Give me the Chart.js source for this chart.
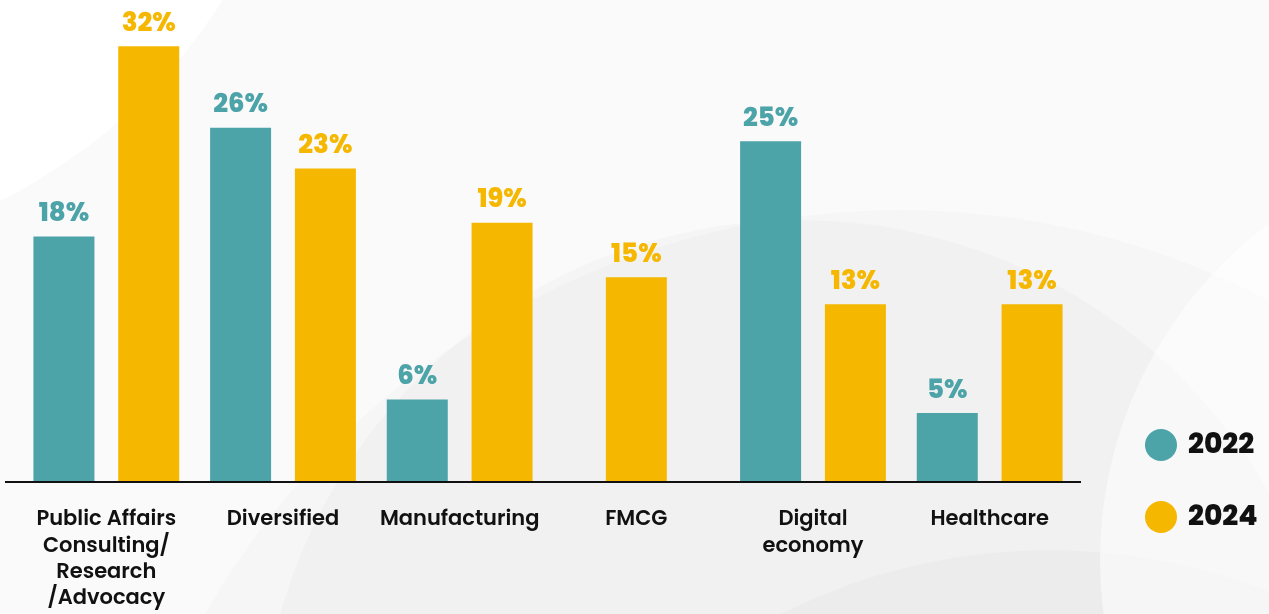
<!DOCTYPE html>
<html>
<head>
<meta charset="utf-8">
<script src="https://cdn.jsdelivr.net/npm/chart.js@4.4.1/dist/chart.umd.min.js"></script>
<style>
  html, body { margin: 0; padding: 0; background: #f7f7f7; }
  #wrap { position: relative; width: 1269px; height: 614px; }
</style>
</head>
<body>
<div id="wrap"><canvas id="sectors"></canvas></div>
<script>
const sectors = [
    ["Public Affairs", "Consulting/", "Research", "/Advocacy"],
    "Diversified",
    "Manufacturing",
    "FMCG",
    ["Digital", "economy"],
    "Healthcare"
];
const share2022 = [18, 26, 6, null, 25, 5];
const share2024 = [32, 23, 19, 15, 13, 13];

const TEAL = "#4ca3a8";
const GOLD = "#f5b700";
const FONT = "Poppins, 'Open Sans', sans-serif";

// soft grey circles behind the chart
const backdrop = {
    id: "backdrop",
    beforeDraw(chart) {
        const ctx = chart.ctx;
        ctx.save();
        ctx.fillStyle = "#fafafa";
        ctx.fillRect(0, 0, chart.width, chart.height);
        const blobs = [
            [-250, -300, 560, "rgba(255,255,255,0.9)"],
            [900, 1010, 800, "rgba(0,0,0,0.015)"],
            [800, 760, 540, "rgba(0,0,0,0.018)"],
            [1050, 1150, 600, "rgba(0,0,0,0.02)"],
            [1520, 560, 420, "rgba(255,255,255,0.5)"]
        ];
        blobs.forEach(([x, y, r, c]) => {
            ctx.beginPath();
            ctx.arc(x, y, r, 0, Math.PI * 2);
            ctx.fillStyle = c;
            ctx.fill();
        });
        ctx.restore();
    }
};

// baseline, value labels and the side legend
const decorations = {
    id: "decorations",
    afterDatasetsDraw(chart) {
        const ctx = chart.ctx;
        const y0 = chart.scales.y.getPixelForValue(0);
        ctx.save();
        ctx.strokeStyle = "#111";
        ctx.lineWidth = 2;
        ctx.beginPath();
        ctx.moveTo(5, y0 + 1);
        ctx.lineTo(1081, y0 + 1);
        ctx.stroke();

        ctx.font = "800 26px " + FONT;
        ctx.textAlign = "center";
        ctx.textBaseline = "bottom";
        chart.data.datasets.forEach((ds, i) => {
            chart.getDatasetMeta(i).data.forEach((bar, j) => {
                if (ds.data[j] == null) return;
                ctx.fillStyle = ds.backgroundColor;
                ctx.fillText(ds.data[j] + "%", bar.x, bar.y - 9);
            });
        });

        ctx.font = "800 28px " + FONT;
        ctx.textAlign = "left";
        ctx.textBaseline = "middle";
        chart.data.datasets.forEach((ds, i) => {
            const cy = 445 + i * 72;
            ctx.beginPath();
            ctx.arc(1161, cy, 16, 0, Math.PI * 2);
            ctx.fillStyle = ds.backgroundColor;
            ctx.fill();
            ctx.fillStyle = "#111";
            ctx.fillText(ds.label, 1188, cy + 1);
        });
        ctx.restore();
    }
};

new Chart(document.getElementById("sectors"), {
    type: "bar",
    data: {
        labels: sectors,
        datasets: [
            { label: "2022", data: share2022, backgroundColor: TEAL },
            { label: "2024", data: share2024, backgroundColor: GOLD }
        ]
    },
    options: {
        responsive: true,
        maintainAspectRatio: false,
        animation: false,
        skipNull: true,
        categoryPercentage: 0.96,
        barPercentage: 0.72,
        maxBarThickness: 61,
        layout: { padding: { left: 18, right: 191, top: 0, bottom: -24 } },
        plugins: {
            legend: { display: false },
            tooltip: { enabled: false }
        },
        scales: {
            x: {
                grid: { display: false, drawTicks: false },
                border: { display: false },
                ticks: {
                    color: "#111",
                    padding: 26,
                    maxRotation: 0,
                    autoSkip: false,
                    font: { family: FONT, size: 21, weight: "600", lineHeight: 1.25 }
                }
            },
            y: {
                display: false,
                min: 0,
                max: 35.4
            }
        }
    },
    plugins: [backdrop, decorations]
});
</script>
</body>
</html>
